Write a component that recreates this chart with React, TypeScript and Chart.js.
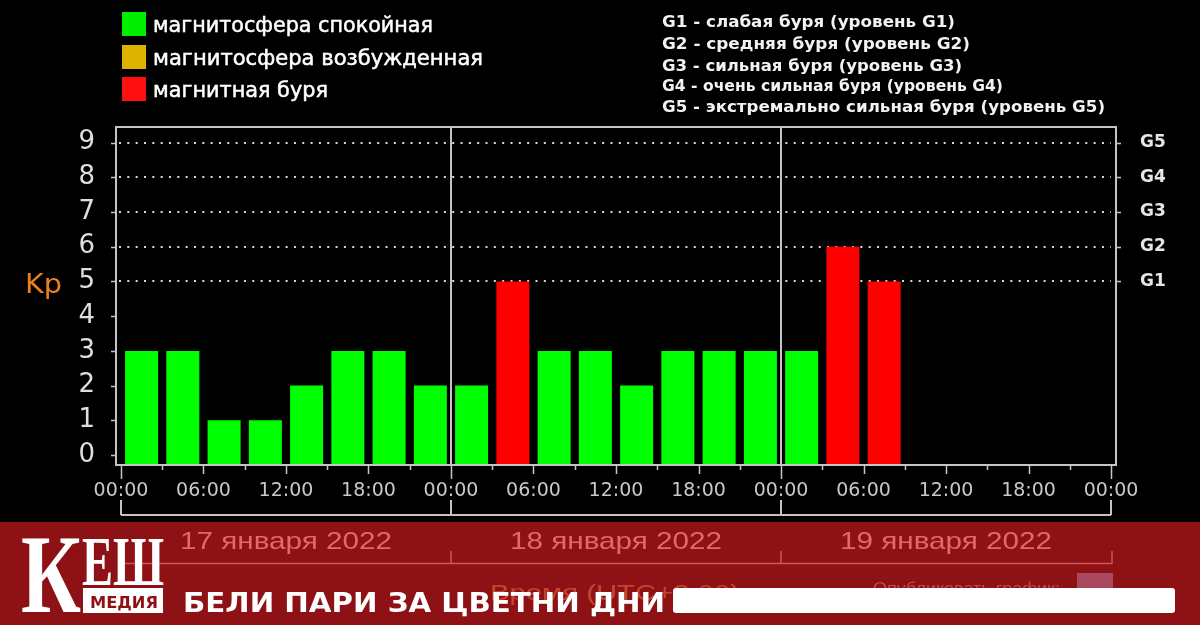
import React, { useEffect, useRef } from "react";
import { Chart, registerables } from "chart.js";

Chart.register(...registerables);

// ---------------- data ----------------
const slotMidHours17 = [1.5, 4.5, 7.5, 10.5, 13.5, 16.5, 19.5, 22.5];
const slotMidHours18 = [25.5, 28.5, 31.5, 34.5, 37.5, 40.5, 43.5, 46.5];
const slotMidHours19 = [49.5, 52.5, 55.5];
const kp17 = [3, 3, 1, 1, 2, 3, 3, 2];
const kp18 = [2, 5, 3, 3, 2, 3, 3, 3];
const kp19 = [3, 6, 5];

const xTickHours = [0, 6, 12, 18, 24, 30, 36, 42, 48, 54, 60, 66, 72];
const xTickLabels = ["00:00", "06:00", "12:00", "18:00", "00:00", "06:00", "12:00", "18:00", "00:00", "06:00", "12:00", "18:00", "00:00"];
const minorTickHours = [3, 9, 15, 21, 27, 33, 39, 45, 51, 57, 63, 69];
const dayBoundaryHours = [0, 24, 48, 72];
const yTickValues = [0, 1, 2, 3, 4, 5, 6, 7, 8, 9];
const gLevelValues = [5, 6, 7, 8, 9];
const gLevelLabels = ["G1", "G2", "G3", "G4", "G5"];
const dayLabels = ["17 января 2022", "18 января 2022", "19 января 2022"];
const legendLabels = ["магнитосфера спокойная", "магнитосфера возбужденная", "магнитная буря"];
const legendColors = ["#00ee00", "#dcb400", "#ff1010"];
const gLegendLines = [
  "G1 - слабая буря (уровень G1)",
  "G2 - средняя буря (уровень G2)",
  "G3 - сильная буря (уровень G3)",
  "G4 - очень сильная буря (уровень G4)",
  "G5 - экстремально сильная буря (уровень G5)",
];

// ---------------- layout constants ----------------
const Y_MIN = -0.288;
const Y_MAX = 9.45;
const X_MIN = -0.36;
const X_MAX = 72.36;
const LINE = "#c4c4c4";

function kpColor(v: number) {
  if (v >= 5) return "#ff0000";
  if (v >= 4) return "#dcb400";
  return "#00ff00";
}

const decorPlugin = {
  id: "decor",
  beforeDatasetsDraw(chart: any) {
    const { ctx, chartArea: a, scales } = chart;
    const y = scales.y;
    ctx.save();
    ctx.strokeStyle = "#d8d8d8";
    ctx.lineWidth = 2;
    ctx.setLineDash([2, 6.33]);
    gLevelValues.forEach((v) => {
      const py = Math.round(y.getPixelForValue(v));
      ctx.beginPath();
      ctx.moveTo(a.left + 3, py);
      ctx.lineTo(a.right - 5, py);
      ctx.stroke();
    });
    ctx.restore();
  },
  afterDatasetsDraw(chart: any) {
    const { ctx, chartArea: a, scales } = chart;
    const x = scales.x;
    const y = scales.y;
    ctx.save();
    ctx.strokeStyle = LINE;
    ctx.lineWidth = 2;
    // plot border
    ctx.strokeRect(a.left, a.top, a.right - a.left, a.bottom - a.top);
    // day separators
    [24, 48].forEach((h) => {
      const px = Math.round(x.getPixelForValue(h));
      ctx.beginPath();
      ctx.moveTo(px, a.top);
      ctx.lineTo(px, a.bottom);
      ctx.stroke();
    });
    // x ticks
    ctx.lineWidth = 1.5;
    minorTickHours.forEach((h) => {
      const px = Math.round(x.getPixelForValue(h)) + 0.5;
      ctx.beginPath();
      ctx.moveTo(px, a.bottom);
      ctx.lineTo(px, a.bottom + 5);
      ctx.stroke();
    });
    xTickHours.forEach((h) => {
      const px = Math.round(x.getPixelForValue(h)) + 0.5;
      const len = dayBoundaryHours.includes(h) ? 14 : 9;
      ctx.beginPath();
      ctx.moveTo(px, a.bottom);
      ctx.lineTo(px, a.bottom + len);
      ctx.stroke();
    });
    // y ticks left
    yTickValues.forEach((v) => {
      const py = Math.round(y.getPixelForValue(v)) + 0.5;
      ctx.beginPath();
      ctx.moveTo(a.left - 5, py);
      ctx.lineTo(a.left, py);
      ctx.stroke();
    });
    // y ticks right
    gLevelValues.forEach((v) => {
      const py = Math.round(y.getPixelForValue(v)) + 0.5;
      ctx.beginPath();
      ctx.moveTo(a.right, py);
      ctx.lineTo(a.right + 5, py);
      ctx.stroke();
    });
    // date bracket
    ctx.lineWidth = 2;
    const bx0 = Math.round(x.getPixelForValue(0));
    const bx1 = Math.round(x.getPixelForValue(72));
    ctx.beginPath();
    ctx.moveTo(bx0, 515);
    ctx.lineTo(bx1, 515);
    ctx.stroke();
    dayBoundaryHours.forEach((h) => {
      const px = Math.round(x.getPixelForValue(h));
      ctx.beginPath();
      ctx.moveTo(px, 500);
      ctx.lineTo(px, 515);
      ctx.stroke();
    });
    ctx.restore();
  },
};

function ChartCanvas() {
  const ref = useRef<HTMLCanvasElement | null>(null);
  useEffect(() => {
    if (!ref.current) return;
    const hours = [...slotMidHours17, ...slotMidHours18, ...slotMidHours19];
    const kp = [...kp17, ...kp18, ...kp19];
    const points = hours.map((h, i) => ({ x: h, y: kp[i] }));
    const chart = new Chart(ref.current, {
      type: "bar",
      data: {
        datasets: [
          {
            data: points as any,
            backgroundColor: kp.map(kpColor),
            borderWidth: 0,
            base: Y_MIN,
            barPercentage: 0.8,
            categoryPercentage: 1,
          } as any,
        ],
      },
      options: {
        animation: false,
        responsive: false,
        devicePixelRatio: 1,
        layout: { padding: { top: 127, left: 0, right: 0, bottom: 0 } },
        plugins: { legend: { display: false }, tooltip: { enabled: false } },
        scales: {
          x: {
            type: "linear",
            min: X_MIN,
            max: X_MAX,
            offset: false,
            grid: { display: false },
            border: { display: false },
            afterBuildTicks: (s: any) => {
              s.ticks = xTickHours.map((v) => ({ value: v }));
            },
            afterFit: (s: any) => {
              s.height = 160;
            },
            ticks: {
              autoSkip: false,
              maxRotation: 0,
              padding: 7,
              color: "#c8c8c8",
              font: { family: "DejaVu Sans", size: 19 },
              callback: (v: any) => {
                const i = xTickHours.indexOf(Number(v));
                return i >= 0 ? xTickLabels[i] : "";
              },
            },
          },
          y: {
            type: "linear",
            position: "left",
            min: Y_MIN,
            max: Y_MAX,
            grid: { display: false },
            border: { display: false },
            afterBuildTicks: (s: any) => {
              s.ticks = yTickValues.map((v) => ({ value: v }));
            },
            afterFit: (s: any) => {
              s.width = 116;
            },
            ticks: {
              padding: 13,
              color: "#dedede",
              font: { family: "DejaVu Sans", size: 26 },
              callback: (v: any) => String(v),
            },
          },
          g: {
            type: "linear",
            position: "right",
            min: Y_MIN,
            max: Y_MAX,
            grid: { display: false },
            border: { display: false },
            afterBuildTicks: (s: any) => {
              s.ticks = gLevelValues.map((v) => ({ value: v }));
            },
            afterFit: (s: any) => {
              s.width = 84;
            },
            ticks: {
              padding: 16,
              color: "#e6e6e6",
              font: { family: "DejaVu Sans", size: 17, weight: "bold" },
              callback: (v: any) => {
                const i = gLevelValues.indexOf(Number(v));
                return i >= 0 ? gLevelLabels[i] : "";
              },
            },
          },
        },
      } as any,
      plugins: [decorPlugin],
    });
    return () => chart.destroy();
  }, []);
  return <canvas ref={ref} width={1200} height={625} style={{ position: "absolute", left: 0, top: 0, width: 1200, height: 625 }} />;
}

function Overlay() {
  const dayCenters = [286, 616, 946];
  const gBaselines = [26.5, 49, 70.5, 91, 111.5];
  const gLengths = [293, 308, 300, 341, 443];
  const legBaselines = [32, 65, 97];
  const legLengths = [280, 330, 175];
  const legTops = [12, 45, 77];
  return (
    <svg width={1200} height={625} style={{ position: "absolute", left: 0, top: 0, pointerEvents: "none" }}>
      {/* top-left legend */}
      {legendLabels.map((t, i) => (
        <g key={t}>
          <rect x={122} y={legTops[i]} width={24} height={24} fill={legendColors[i]} />
          <text x={153} y={legBaselines[i]} fill="#ffffff" stroke="#ffffff" strokeWidth={0.5} fontFamily="DejaVu Sans" fontSize={21} textLength={legLengths[i]} lengthAdjust="spacingAndGlyphs">
            {t}
          </text>
        </g>
      ))}
      {/* G legend */}
      {gLegendLines.map((t, i) => (
        <text key={t} x={662} y={gBaselines[i]} fill="#f2f2f2" fontFamily="DejaVu Sans" fontWeight="bold" fontSize={16} textLength={gLengths[i]} lengthAdjust="spacingAndGlyphs">
          {t}
        </text>
      ))}
      {/* Kp label */}
      <text x={25} y={293} fill="#e8801e" fontFamily="DejaVu Sans" fontSize={26} textLength={37} lengthAdjust="spacingAndGlyphs">
        Kp
      </text>

      {/* bottom banner */}
      <rect x={0} y={522} width={1200} height={103} fill="#8e1116" />
      {dayLabels.map((t, i) => (
        <text key={t} x={dayCenters[i]} y={549} fill="#df6a6a" fontFamily="Liberation Sans" fontSize={24} textAnchor="middle" textLength={212} lengthAdjust="spacingAndGlyphs">
          {t}
        </text>
      ))}
      <line x1={121} y1={563.5} x2={1112} y2={563.5} stroke="#cf5656" strokeWidth={1.5} />
      {[451, 781, 1112].map((px) => (
        <line key={px} x1={px} y1={551} x2={px} y2={564} stroke="#cf5656" strokeWidth={1.5} />
      ))}
      <text x={490} y={600} fill="#c8432e" fontFamily="Liberation Sans" fontSize={22} textLength={250} lengthAdjust="spacingAndGlyphs">
        Время (UTC+3:00)
      </text>
      <text x={873} y={594} fill="#bd4c4c" fontFamily="Liberation Sans" fontSize={17} textLength={187} lengthAdjust="spacingAndGlyphs">
        Опубликовать график:
      </text>
      <rect x={1077} y={573} width={36} height={28} fill="#a9485f" />
      <rect x={673} y={588} width={502} height={25} rx={3} fill="#ffffff" />

      {/* logo */}
      <text x={21} y={612} fill="#ffffff" fontFamily="Liberation Serif" fontWeight="bold" fontSize={112} textLength={60} lengthAdjust="spacingAndGlyphs">
        К
      </text>
      <text x={82} y={585} fill="#ffffff" fontFamily="Liberation Serif" fontWeight="bold" fontSize={70} textLength={82} lengthAdjust="spacingAndGlyphs">
        ЕШ
      </text>
      <rect x={83} y={588} width={80} height={25} fill="#ffffff" />
      <text x={90} y={608} fill="#8e1116" fontFamily="DejaVu Sans" fontWeight="bold" fontSize={16} textLength={68} lengthAdjust="spacingAndGlyphs">
        МЕДИЯ
      </text>
      <text x={183} y={612} fill="#ffffff" fontFamily="DejaVu Sans" fontWeight="bold" fontSize={26} textLength={482} lengthAdjust="spacingAndGlyphs">
        БЕЛИ ПАРИ ЗА ЦВЕТНИ ДНИ
      </text>
    </svg>
  );
}

export default function App() {
  return (
    <div style={{ position: "fixed", left: 0, top: 0, width: 1200, height: 625, background: "#000", overflow: "hidden" }}>
      <ChartCanvas />
      <Overlay />
    </div>
  );
}
